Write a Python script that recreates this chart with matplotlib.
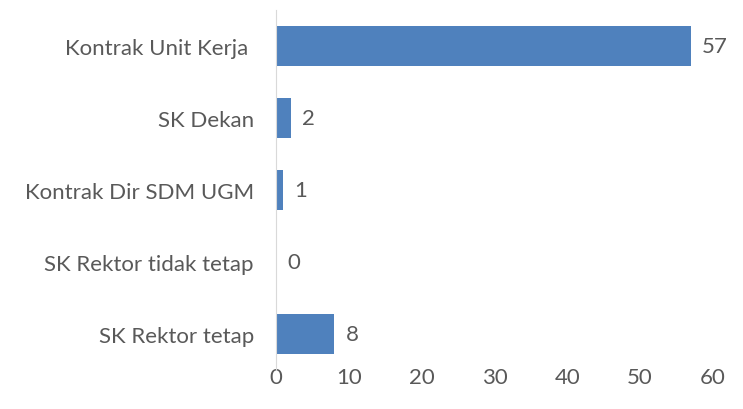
import matplotlib.pyplot as plt

categories = ['SK Rektor tetap', 'SK Rektor tidak tetap', 'Kontrak Dir SDM UGM', 'SK Dekan', 'Kontrak Unit Kerja ']
values = [8, 0, 1, 2, 57]
xticks = [0, 10, 20, 30, 40, 50, 60]

plt.rcParams['font.family'] = ['Lato', 'DejaVu Sans']
grey = '#595959'
fs = 16

fig = plt.figure(figsize=(7.43, 4.10), dpi=100)
ax = fig.add_axes([0.3715, 0.095, 0.588, 0.878])

pos = range(len(categories))
ax.barh(pos, values, height=0.56, color='#4F81BD')
for p, v in zip(pos, values):
    ax.annotate(str(v), (v, p), xytext=(8, 0), textcoords='offset points',
                va='center', ha='left', fontsize=fs, color=grey)

ax.set_yticks(list(pos))
ax.set_yticklabels(categories, fontsize=fs, color=grey)
ax.set_xticks(xticks)
ax.set_xticklabels([str(t) for t in xticks], fontsize=fs, color=grey)
ax.set_xlim(0, 60)
ax.set_ylim(-0.5, 4.5)

for s in ['top', 'right', 'bottom']:
    ax.spines[s].set_visible(False)
ax.spines['left'].set_color('#D9D9D9')
ax.tick_params(axis='both', length=0)
ax.tick_params(axis='x', pad=-2)
ax.tick_params(axis='y', pad=16)

fig.savefig('out.png', dpi=100)
